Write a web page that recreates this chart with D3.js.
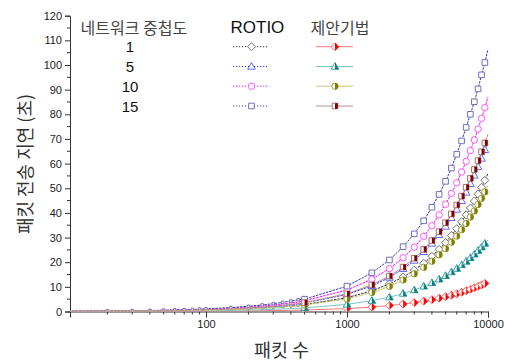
<!DOCTYPE html>
<html><head><meta charset="utf-8">
<script src="https://cdn.jsdelivr.net/npm/d3@7/dist/d3.min.js"></script>
<style>body{margin:0;background:#fff}svg{display:block}</style>
</head><body>
<svg id="c" width="509" height="361"></svg>
<script>
const xValues = [10,20,30,40,50,60,70,80,90,100,150,200,250,300,350,400,450,
  500,1000,1500,2000,2500,3000,3500,4000,4500,5000,5500,6000,6500,7000,7500,8000,8500,9000,9500,10000];
const rotio1 = [.06,.11,.17,.22,.28,.34,.39,.45,.50,.56,.84,1.12,1.40,1.68,1.96,2.24,2.52,
  2.8,5.6,8.4,11.2,14.0,16.8,19.6,22.4,25.2,28.0,30.8,33.6,36.4,39.2,42.0,44.8,47.6,50.4,53.2,56.0];
const rotio5 = [.07,.14,.21,.28,.35,.41,.48,.55,.62,.69,1.04,1.38,1.73,2.07,2.42,2.76,3.11,
  3.5,6.9,10.4,13.8,17.3,20.7,24.2,27.6,31.1,34.5,38.0,41.4,44.9,48.3,51.8,55.2,58.7,62.1,65.6,69.0];
const rotio10 = [.09,.17,.26,.35,.44,.52,.61,.70,.78,.87,1.31,1.74,2.18,2.61,3.05,3.48,3.92,
  4.4,8.7,13.1,17.4,21.8,26.1,30.5,34.8,39.2,43.5,47.9,52.2,56.6,60.9,65.3,69.6,74.0,78.3,82.7,87.0];
const rotio15 = [.11,.21,.32,.42,.53,.64,.74,.85,.95,1.06,1.59,2.12,2.65,3.18,3.71,4.24,4.77,
  5.0,10.3,15.7,20.9,26.3,31.5,36.8,42.3,47.5,52.8,58.2,63.8,69.2,74.7,80.0,85.1,90.3,96.0,101.0,106.4];
const proposed1 = [.01,.02,.04,.05,.06,.07,.08,.10,.11,.12,.18,.24,.30,.36,.42,.48,.54,
  0.6,1.2,1.8,2.4,3.0,3.6,4.2,4.8,5.4,6.0,6.6,7.2,7.8,8.4,9.0,9.6,10.2,10.8,11.4,12.0];
const proposed5 = [.03,.06,.09,.12,.15,.17,.20,.23,.26,.29,.44,.58,.73,.87,1.02,1.16,1.31,
  1.5,2.9,4.4,5.8,7.3,8.7,10.2,11.6,13.1,14.5,16.0,17.4,18.9,20.3,21.8,23.2,24.7,26.1,27.6,29.0];
const proposed10 = [.05,.10,.15,.20,.26,.31,.36,.41,.46,.51,.77,1.02,1.28,1.53,1.79,2.04,2.30,
  2.6,5.1,7.7,10.2,12.8,15.3,17.9,20.4,23.0,25.5,28.1,30.6,33.2,35.7,38.3,40.8,43.4,45.9,48.5,51.0];
const proposed15 = [.07,.14,.22,.29,.36,.43,.50,.58,.65,.72,1.08,1.44,1.80,2.16,2.52,2.88,3.24,
  3.6,7.2,10.8,14.4,18.0,21.6,25.2,28.8,32.4,36.0,39.6,43.2,46.8,50.4,54.0,57.6,61.2,64.8,68.4,72.0];
const overlapLevels = ["1","5","10","15"];
const yTicks = [0,10,20,30,40,50,60,70,80,90,100,110,120];
const xMajorTicks = [100,1000,10000];
const xTickLabels = ["100","1000","10000"];
const legendTitle = "네트워크 중첩도";
const rotioTitle = "ROTIO";
const proposedTitle = "제안기법";
const xTitle = "패킷 수";
const yTitle = "패킷 전송 지연 (초)";

const svg = d3.select("#c");
const X0 = 70, X1 = 488, Y0 = 311.5, Y1 = 15.7;
const x = d3.scaleLog().domain([10.85, 10000]).range([X0, X1]);
const y = d3.scaleLinear().domain([0, 120]).range([Y0, Y1]);

svg.append("defs").append("clipPath").attr("id","plot")
  .append("rect").attr("x",X0).attr("y",0).attr("width",509-X0).attr("height",Y0);

const rotio = [
  {v:rotio1, line:"#333333", stroke:"#707070", shape:"diamond"},
  {v:rotio5, line:"#3333ff", stroke:"#6666ff", shape:"triangle"},
  {v:rotio10, line:"#ff00ff", stroke:"#ff55ff", shape:"circle"},
  {v:rotio15, line:"#3838a0", stroke:"#7070c0", shape:"square"}
];
const prop = [
  {v:proposed1, line:"#ff7878", stroke:"#ff6060", fill:"#ff0000", shape:"diamond"},
  {v:proposed5, line:"#78c4c4", stroke:"#40a0a0", fill:"#008080", shape:"triangle"},
  {v:proposed10, line:"#c8c880", stroke:"#a0a040", fill:"#808000", shape:"circle"},
  {v:proposed15, line:"#c09090", stroke:"#b07070", fill:"#800000", shape:"square"}
];

function outline(shape){
  if(shape==="diamond") return "M0,-4L4,0L0,4L-4,0Z";
  if(shape==="triangle") return "M0,-4L3.8,2.7L-3.8,2.7Z";
  if(shape==="circle") return "M3.2,0A3.2,3.2 0 1,1 -3.2,0A3.2,3.2 0 1,1 3.2,0Z";
  return "M-2.8,-2.8H2.8V2.8H-2.8Z";
}
function rightHalf(shape){
  if(shape==="diamond") return "M0,-4L4,0L0,4Z";
  if(shape==="triangle") return "M0,-4L3.8,2.7L0,2.7Z";
  if(shape==="circle") return "M0,-3.2A3.2,3.2 0 0,1 0,3.2Z";
  return "M0,-2.8H2.8V2.8H0Z";
}

// axes
const ax = svg.append("g").attr("font-family","Liberation Sans, Arial, sans-serif");
const yAxis = d3.axisLeft(y).tickValues(yTicks).tickSizeOuter(0).tickSize(5).tickPadding(3);
const gy = ax.append("g").attr("transform",`translate(${X0},0)`).call(yAxis);
gy.append("g").selectAll("line").data(d3.range(5,120,10)).join("line")
  .attr("x1",0).attr("x2",-3).attr("y1",d=>y(d)).attr("y2",d=>y(d)).attr("stroke","#333");
const minorX = [];
[10,100,1000].forEach(b=>{for(let k=2;k<=9;k++){const t=b*k; if(t>10.85&&t<10000) minorX.push(t);}});
const xAxis = d3.axisBottom(x).tickValues(xMajorTicks).tickFormat((d,i)=>xTickLabels[i]).tickSizeOuter(0).tickSize(6).tickPadding(3);
const gx = ax.append("g").attr("transform",`translate(0,${Y0})`).call(xAxis);
gx.append("g").selectAll("line").data(minorX).join("line")
  .attr("x1",d=>x(d)).attr("x2",d=>x(d)).attr("y1",0).attr("y2",3).attr("stroke","#333");
ax.selectAll(".domain,.tick line").attr("stroke","#333");
ax.selectAll(".tick text").attr("font-size","11px").attr("fill","#222");

// series
const plot = svg.append("g").attr("clip-path","url(#plot)");
const lineGen = v => d3.line().x((d,i)=>x(xValues[i])).y(d=>y(d))(v);
rotio.forEach(s=>{
  plot.append("path").attr("d",lineGen(s.v)).attr("fill","none").attr("stroke",s.line)
    .attr("stroke-width",1).attr("stroke-dasharray","2.5,1");
});
rotio.forEach(s=>{
  plot.append("g").selectAll("path").data(s.v.slice(0,-1)).join("path")
    .attr("transform",(d,i)=>`translate(${x(xValues[i])},${y(d)}) scale(${xValues[i]<500?0.45:1})`)
    .attr("d",outline(s.shape)).attr("fill","#fff").attr("stroke",s.stroke).attr("stroke-width",1)
    .attr("vector-effect","non-scaling-stroke");
});
prop.forEach(s=>{
  plot.append("path").attr("d",lineGen(s.v)).attr("fill","none").attr("stroke",s.line).attr("stroke-width",1);
});
prop.forEach(s=>{
  const pts = s.v.map((d,i)=>({xv:xValues[i],yv:d})).filter((p,i)=>p.xv>=500 && i<s.v.length-1);
  const g = plot.append("g").selectAll("g").data(pts).join("g")
    .attr("transform",p=>`translate(${x(p.xv)},${y(p.yv)})`);
  g.append("path").attr("d",outline(s.shape)).attr("fill","#fff").attr("stroke",s.stroke).attr("stroke-width",1);
  g.append("path").attr("d",rightHalf(s.shape)).attr("fill",s.fill);
});

// legend
const kr = "Noto Sans CJK KR, sans-serif";
const lg = svg.append("g");
lg.append("text").attr("x",80.5).attr("y",33.5).attr("font-family",kr).attr("font-size","16px").attr("fill","#444").text(legendTitle);
lg.append("text").attr("x",230.5).attr("y",33).attr("font-family","Liberation Sans, Arial, sans-serif").attr("font-size","17px").attr("fill","#111").text(rotioTitle);
lg.append("text").attr("x",310.5).attr("y",33.5).attr("font-family",kr).attr("font-size","16px").attr("fill","#444").text(proposedTitle);
const rowY = [46.7, 66.5, 86.2, 106];
overlapLevels.forEach((lab,i)=>{
  const yy = rowY[i];
  lg.append("text").attr("x",130).attr("y",yy+5.5).attr("text-anchor","middle")
    .attr("font-family","Liberation Sans, Arial, sans-serif").attr("font-size","15px").attr("fill","#111").text(lab);
  const r = rotio[i];
  lg.append("line").attr("x1",233).attr("x2",269).attr("y1",yy).attr("y2",yy)
    .attr("stroke",r.line).attr("stroke-dasharray","1.2,1.8");
  lg.append("path").attr("transform",`translate(251.5,${yy})`).attr("d",outline(r.shape))
    .attr("fill","#fff").attr("stroke",r.stroke);
  const p = prop[i];
  lg.append("line").attr("x1",316).attr("x2",353).attr("y1",yy).attr("y2",yy).attr("stroke",p.line);
  lg.append("path").attr("transform",`translate(335,${yy})`).attr("d",outline(p.shape))
    .attr("fill","#fff").attr("stroke",p.stroke);
  lg.append("path").attr("transform",`translate(335,${yy})`).attr("d",rightHalf(p.shape)).attr("fill",p.fill);
});

// titles
svg.append("text").attr("x",281.5).attr("y",356.5).attr("text-anchor","middle")
  .attr("font-family",kr).attr("font-size","18.5px").attr("fill","#333").text(xTitle);
svg.append("text").attr("transform","translate(32,164) rotate(-90)").attr("text-anchor","middle")
  .attr("font-family",kr).attr("font-size","18px").attr("fill","#333").text(yTitle);
</script>
</body></html>
